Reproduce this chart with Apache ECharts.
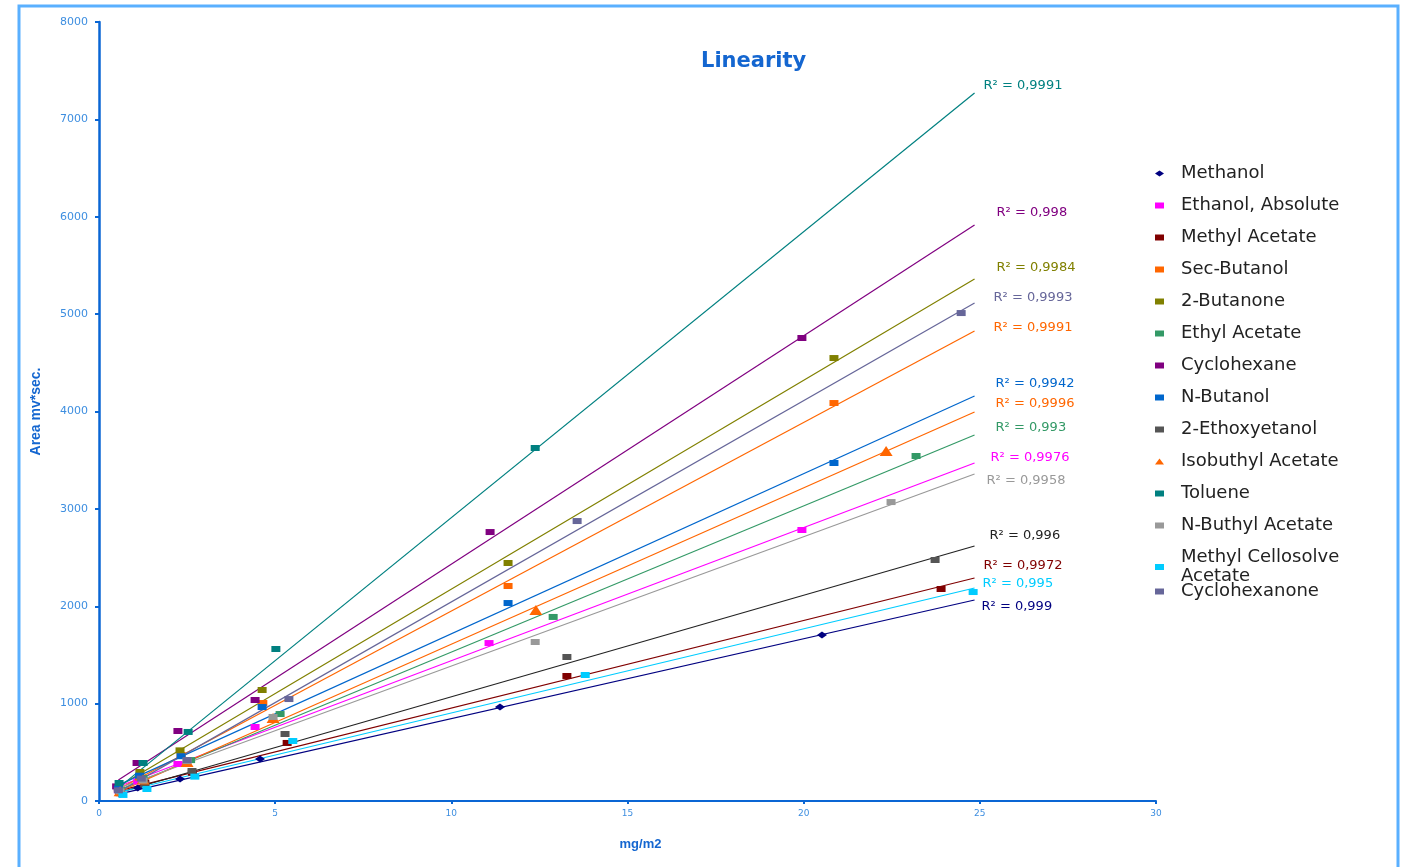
<!DOCTYPE html>
<html>
<head>
<meta charset="utf-8">
<title>Linearity</title>
<script src="https://cdn.jsdelivr.net/npm/echarts@6/dist/echarts.min.js"></script>
<style>
  html, body { margin: 0; padding: 0; background: #fff; }
  #chart { width: 1405px; height: 867px; }
</style>
</head>
<body>
<div id="chart"></div>
<script>
// compounds, in legend order
var names = ['Methanol', 'Ethanol, Absolute', 'Methyl Acetate', 'Sec-Butanol', '2-Butanone',
    'Ethyl Acetate', 'Cyclohexane', 'N-Butanol', '2-Ethoxyetanol', 'Isobuthyl Acetate',
    'Toluene', 'N-Buthyl Acetate', 'Methyl Cellosolve Acetate', 'Cyclohexanone'];

// measured points [mg/m2, area]
var methanol = [[0.6, 70], [1.1, 133], [2.3, 226], [4.57, 431], [11.38, 965], [20.52, 1705]];
var ethanol = [[0.55, 110], [1.1, 200], [2.24, 380], [4.43, 760], [11.07, 1622], [19.95, 2783]];
var methylAcetate = [[0.6, 100], [1.3, 190], [2.65, 290], [5.34, 596], [13.28, 1284], [23.9, 2177]];
var secButanol = [[0.55, 120], [1.15, 240], [2.33, 472], [4.65, 1006], [11.61, 2208], [20.86, 4087]];
var butanone = [[0.55, 140], [1.16, 298], [2.3, 520], [4.63, 1140], [11.61, 2444], [20.86, 4549]];
var ethylAcetate = [[0.6, 110], [1.25, 236], [2.6, 420], [5.14, 893], [12.89, 1890], [23.19, 3543]];
var cyclohexane = [[0.5, 150], [1.08, 390], [2.24, 719], [4.43, 1037], [11.1, 2762], [19.95, 4755]];
var nButanol = [[0.55, 130], [1.15, 260], [2.33, 460], [4.63, 965], [11.61, 2033], [20.86, 3471]];
var ethoxyetanol = [[0.6, 80], [1.3, 170], [2.64, 308], [5.28, 688], [13.28, 1479], [23.73, 2475]];
var isobuthylAcetate = [[0.6, 100], [1.25, 220], [2.5, 400], [4.94, 852], [12.4, 1961], [22.34, 3594]];
var toluene = [[0.57, 185], [1.25, 390], [2.53, 709], [5.02, 1561], [12.38, 3625]];
var nButhylAcetate = [[0.6, 100], [1.25, 210], [2.5, 410], [4.94, 863], [12.38, 1633], [22.48, 3070]];
var cellosolve = [[0.68, 62], [1.36, 123], [2.72, 250], [5.5, 616], [13.8, 1294], [24.81, 2146]];
var cyclohexanone = [[0.55, 110], [1.2, 230], [2.5, 420], [5.39, 1047], [13.57, 2875], [24.47, 5011]];

var points = [methanol, ethanol, methylAcetate, secButanol, butanone, ethylAcetate, cyclohexane,
    nButanol, ethoxyetanol, isobuthylAcetate, toluene, nButhylAcetate, cellosolve, cyclohexanone];

// linear trendlines: x range and y at both ends
var trendX = [0.55, 24.85];
var trendStart = [70, 149, 104, 121, 150, 111, 216, 163, 85, 92, 135, 131, 87, 91];
var trendEnd = [2064, 3471, 2290, 4827, 5360, 3758, 5915, 4159, 2619, 3995, 7270, 3358, 2187, 5114];
var r2 = ['0,999', '0,9976', '0,9972', '0,9991', '0,9984', '0,993', '0,998',
    '0,9942', '0,996', '0,9996', '0,9991', '0,9958', '0,995', '0,9993'];

var colors = ['#000080', '#ff00ff', '#800000', '#ff6600', '#808000', '#339966', '#800080',
    '#0066cc', '#555555', '#ff6600', '#008080', '#999999', '#00ccff', '#666699'];
var lineColors = colors.slice();
lineColors[8] = '#222222';
var symbols = ['diamond', 'rect', 'rect', 'rect', 'rect', 'rect', 'rect',
    'rect', 'rect', 'triangle', 'rect', 'rect', 'rect', 'rect'];
// where each R² text sits relative to the end of its line
var labelOffset = [[2, 7], [11, -5], [4, -12], [14, -3], [17, -11], [16, -7], [17, -12],
    [16, -12], [10, -10], [16, -8], [4, -7], [7, 7], [3, -4], [14, -5]];

var chart = echarts.init(document.getElementById('chart'));

var series = [];
names.forEach(function (name, i)
{
    series.push({
        name: name + ' trend',
        type: 'line',
        data: [
            [trendX[0], trendStart[i]],
            {
                value: [trendX[1], trendEnd[i]],
                label: {
                    show: true,
                    position: 'right',
                    distance: 5,
                    offset: labelOffset[i],
                    formatter: 'R² = ' + r2[i],
                    color: lineColors[i],
                    fontFamily: 'DejaVu Sans',
                    fontSize: 13
                }
            }
        ],
        symbol: 'circle',
        symbolSize: 0,
        showSymbol: true,
        silent: true,
        lineStyle: { color: lineColors[i], width: 1.2 },
        itemStyle: { color: lineColors[i] },
        z: 2
    });
});
names.forEach(function (name, i)
{
    series.push({
        name: name,
        type: 'scatter',
        data: points[i],
        symbol: symbols[i],
        symbolSize: symbols[i] === 'triangle' ? [13, 10] : (symbols[i] === 'diamond' ? [10, 7] : [9, 6]),
        itemStyle: { color: colors[i], opacity: 1 },
        z: 3
    });
});

var legendText = {
    fontFamily: 'DejaVu Sans',
    fontSize: 18,
    color: '#222',
    lineHeight: 19,
    padding: [0, 0, 0, 12]
};

var option = {
    animation: false,
    backgroundColor: '#fff',
    title: {
        text: 'Linearity',
        left: 696,
        top: 46,
        textStyle: { color: '#1466d0', fontFamily: 'DejaVu Sans', fontWeight: 'bold', fontSize: 21 }
    },
    legend: [{
        data: names.slice(0, 13),
        orient: 'vertical',
        left: 1150,
        top: 159,
        itemWidth: 9,
        itemHeight: 6,
        itemGap: 13,
        textStyle: legendText,
        formatter: function (n)
        {
            return n === 'Methyl Cellosolve Acetate' ? 'Methyl Cellosolve\nAcetate' : n;
        }
    }, {
        data: ['Cyclohexanone'],
        orient: 'vertical',
        left: 1150,
        top: 577,
        itemWidth: 9,
        itemHeight: 6,
        textStyle: legendText
    }],
    grid: { left: 99, right: 249, top: 22, bottom: 66, containLabel: false },
    xAxis: {
        type: 'value',
        min: 0,
        max: 30,
        interval: 5,
        name: 'mg/m2',
        nameLocation: 'middle',
        nameGap: 37,
        nameTextStyle: { color: '#1466d0', fontFamily: 'Liberation Sans', fontWeight: 'bold', fontSize: 13, padding: [0, 0, 0, 26] },
        axisLine: { lineStyle: { color: '#0a66d4', width: 2 } },
        axisTick: { show: true, length: 3, lineStyle: { color: '#0a66d4', width: 2 } },
        axisLabel: { color: '#3d8ee0', fontFamily: 'DejaVu Sans', fontSize: 9, margin: 8 },
        splitLine: { show: false }
    },
    yAxis: {
        type: 'value',
        min: 0,
        max: 8000,
        interval: 1000,
        name: 'Area mv*sec.',
        nameLocation: 'middle',
        nameGap: 56,
        nameRotate: 90,
        nameTextStyle: { color: '#1466d0', fontFamily: 'Liberation Sans Narrow, Liberation Sans', fontWeight: 'bold', fontSize: 14 },
        axisLine: { show: true, lineStyle: { color: '#0a66d4', width: 2.5 } },
        axisTick: { show: true, length: 4, lineStyle: { color: '#0a66d4', width: 2 } },
        axisLabel: {
            color: '#3d8ee0', fontFamily: 'DejaVu Sans', fontSize: 11, margin: 11,
            formatter: function (v) { return String(v); }
        },
        splitLine: { show: false }
    },
    graphic: [{
        type: 'rect',
        shape: { x: 19, y: 6, width: 1379, height: 866 },
        style: { fill: null, stroke: '#5ab0ff', lineWidth: 3 },
        silent: true
    }],
    series: series
};

chart.setOption(option);
</script>
</body>
</html>
